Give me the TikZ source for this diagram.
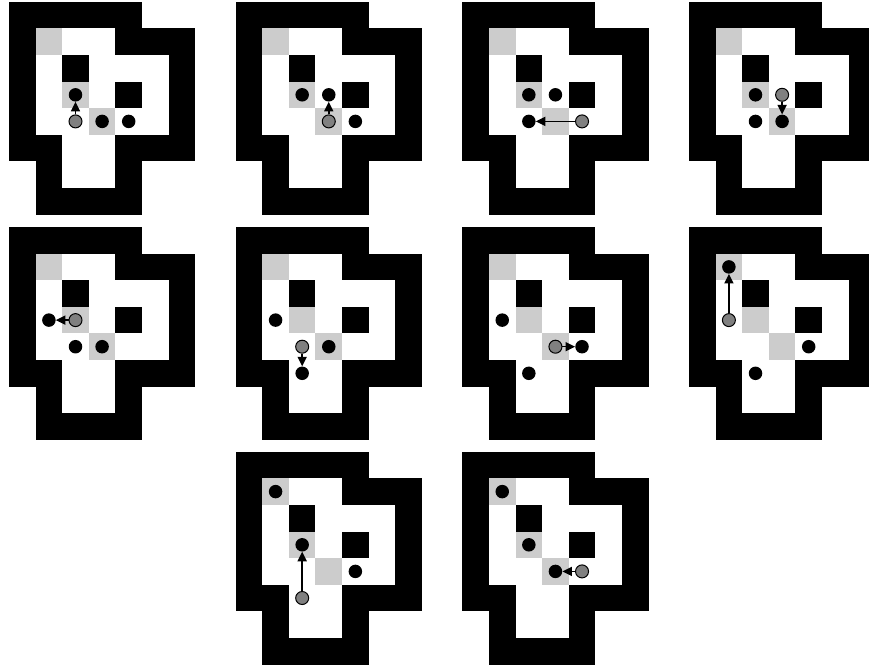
\documentclass[tikz,border=0pt]{standalone}
\usetikzlibrary{arrows.meta}
\definecolor{goalgray}{RGB}{204,204,204}
\definecolor{pgray}{RGB}{128,128,128}
\tikzset{
  wall/.style={fill=black},
  goal/.style={fill=goalgray},
  box/.style={circle,fill=black,minimum size=13.5pt,inner sep=0pt},
  ghost/.style={circle,fill=pgray,draw=black,line width=1pt,minimum size=13pt,inner sep=0pt},
  move/.style={-{Triangle[length=9.5pt,width=9pt]},line width=1.5pt},
  gridunits/.style={x=26.6pt,y=-26.6pt}
}
\newcommand\drawboard{%
  \foreach \c/\r in {0/0,1/0,2/0,3/0,4/0,0/1,4/1,5/1,6/1,0/2,2/2,6/2,0/3,4/3,6/3,0/4,6/4,0/5,1/5,4/5,5/5,6/5,1/6,4/6,1/7,2/7,3/7,4/7}
    {\fill[wall] (\c,\r) rectangle ++(1,1);}
  \foreach \c/\r in {1/1,2/3,3/4}
    {\fill[goal] (\c,\r) rectangle ++(1,1);}
}
% #1 prefix, #2 x, #3 y, #4 box1, #5 box2, #6 box3 (target), #7 ghost
\newcommand\panel[7]{%
  \begin{scope}[shift={(#2pt,-#3pt)},gridunits]
    \drawboard
    \node[box] (#1a) at (#4) {};
    \node[box] (#1b) at (#5) {};
    \node[box] (#1t) at (#6) {};
    \node[ghost] (#1g) at (#7) {};
    \draw[move] (#1g) -- (#1t);
  \end{scope}
}
\begin{document}
\begin{tikzpicture}
  \useasboundingbox (0,0) rectangle (869pt,-670pt);
  \fill[white] (0,0) rectangle (869pt,-670pt);
  \panel{pa}{9}{1.7}{3.5,4.5}{4.5,4.5}{2.5,3.5}{2.5,4.5}
  \panel{pb}{235.67}{1.7}{2.5,3.5}{4.5,4.5}{3.5,3.5}{3.5,4.5}
  \panel{pc}{462.33}{1.7}{2.5,3.5}{3.5,3.5}{2.5,4.5}{4.5,4.5}
  \panel{pd}{689}{1.7}{2.5,3.5}{2.5,4.5}{3.5,4.5}{3.5,3.5}
  \panel{pe}{9}{227}{2.5,4.5}{3.5,4.5}{1.5,3.5}{2.5,3.5}
  \panel{pf}{235.67}{227}{1.5,3.5}{3.5,4.5}{2.5,5.5}{2.5,4.5}
  \panel{pg}{462.33}{227}{1.5,3.5}{2.5,5.5}{4.5,4.5}{3.5,4.5}
  \panel{ph}{689}{227}{4.5,4.5}{2.5,5.5}{1.5,1.5}{1.5,3.5}
  \panel{pi}{235.67}{451.7}{1.5,1.5}{4.5,4.5}{2.5,3.5}{2.5,5.5}
  \panel{pj}{462.33}{451.7}{1.5,1.5}{2.5,3.5}{3.5,4.5}{4.5,4.5}
\end{tikzpicture}
\end{document}
